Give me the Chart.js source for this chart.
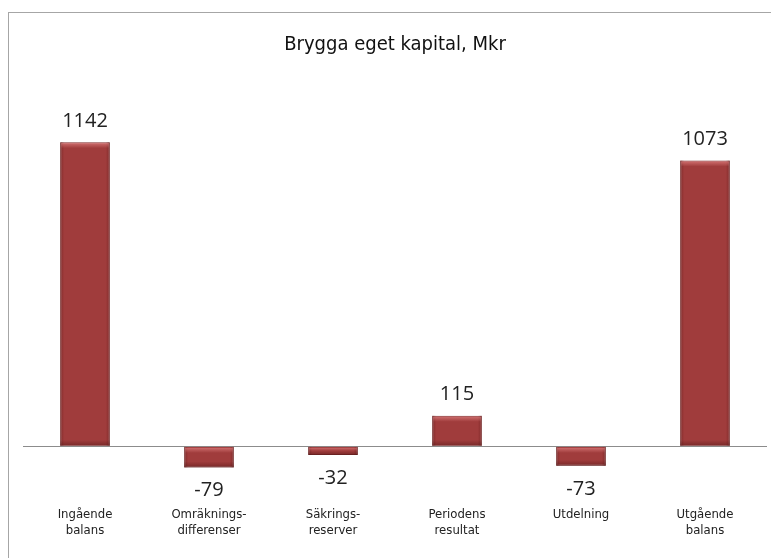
<!DOCTYPE html>
<html>
<head>
<meta charset="utf-8">
<script src="https://cdn.jsdelivr.net/npm/chart.js@4"></script>
<style>
  body { margin: 0; background: #fff; }
  #wrap { position: absolute; left: 0; top: 0; width: 771px; height: 558px; }
</style>
</head>
<body>
<div id="wrap"><canvas id="myChart" width="771" height="558"></canvas></div>
<script>
const categories = [
  ["Ingående", "balans"],
  ["Omräknings-", "differenser"],
  ["Säkrings-", "reserver"],
  ["Periodens", "resultat"],
  ["Utdelning"],
  ["Utgående", "balans"]
]
const values = [1142, -79, -32, 115, -73, 1073]
const chartTitle = "Brygga eget kapital, Mkr"

const narrowFont = "'Liberation Sans Narrow', 'DejaVu Sans Condensed', 'Liberation Sans', sans-serif"
const valueFont = "'Open Sans', 'Noto Sans', sans-serif"

// frame around the chart, like the original slide box
const framePlugin = {
  id: "frame",
  beforeDraw(chart) {
    const c = chart.ctx
    c.save()
    c.fillStyle = "#fff"
    c.fillRect(0, 0, chart.width, chart.height)
    c.strokeStyle = "#a6a6a6"
    c.lineWidth = 1
    c.strokeRect(8.5, 12.5, 900, 700)
    c.restore()
  }
}

// bevel look + value labels on each bar
const barLabels = {
  id: "barLabels",
  afterDatasetsDraw(chart) {
    const c = chart.ctx
    const meta = chart.getDatasetMeta(0)
    c.save()
    meta.data.forEach((bar, i) => {
      const left = bar.x - bar.width / 2
      const right = bar.x + bar.width / 2
      const top = Math.min(bar.y, bar.base)
      const bottom = Math.max(bar.y, bar.base)
      const h = bottom - top

      let g = c.createLinearGradient(left, 0, right, 0)
      g.addColorStop(0, "rgba(90,20,20,0.45)")
      g.addColorStop(0.08, "rgba(90,20,20,0)")
      g.addColorStop(0.92, "rgba(90,20,20,0)")
      g.addColorStop(1, "rgba(90,20,20,0.45)")
      c.fillStyle = g
      c.fillRect(left, top, bar.width, h)

      const hl = Math.min(6, h / 2)
      g = c.createLinearGradient(0, top, 0, top + hl)
      g.addColorStop(0, "rgba(235,140,140,0.7)")
      g.addColorStop(1, "rgba(235,140,140,0)")
      c.fillStyle = g
      c.fillRect(left + 1, top + 1, bar.width - 2, hl)

      g = c.createLinearGradient(0, bottom - hl, 0, bottom)
      g.addColorStop(0, "rgba(70,15,15,0)")
      g.addColorStop(1, "rgba(70,15,15,0.45)")
      c.fillStyle = g
      c.fillRect(left, bottom - hl, bar.width, hl)

      c.font = "20px " + valueFont
      c.fillStyle = "#222"
      c.textAlign = "center"
      c.textBaseline = "middle"
      const v = values[i]
      const y = v >= 0 ? bar.y - 21 : bar.y + 23
      c.fillText(String(v), bar.x, y)
    })
    c.restore()
  }
}

new Chart(document.getElementById("myChart"), {
  type: "bar",
  data: {
    labels: categories,
    datasets: [
      {
        data: values,
        backgroundColor: "#a03c3c",
        borderColor: "#7e2a2a",
        borderWidth: 1,
        barPercentage: 0.4,
        categoryPercentage: 1
      }
    ]
  },
  options: {
    responsive: false,
    animation: false,
    layout: { padding: { left: 23, right: 4, top: 0, bottom: 0 } },
    plugins: {
      legend: { display: false },
      tooltip: { enabled: false },
      title: {
        display: true,
        text: chartTitle,
        color: "#111",
        font: { family: narrowFont, size: 20, weight: "normal" },
        padding: { top: 33, bottom: 83 }
      }
    },
    scales: {
      x: {
        grid: { display: false, drawTicks: false },
        border: { display: false },
        afterFit: (scale) => { scale.height = 85 },
        ticks: {
          color: "#222",
          font: { family: narrowFont, size: 13 },
          padding: 34,
          maxRotation: 0,
          autoSkip: false
        }
      },
      y: {
        min: -100,
        max: 1150,
        grid: {
          drawTicks: false,
          color: (ctx) => (ctx.tick && ctx.tick.value === 0 ? "#8c8c8c" : "transparent")
        },
        border: { display: false },
        ticks: { display: false, stepSize: 50 }
      }
    }
  },
  plugins: [framePlugin, barLabels]
})
</script>
</body>
</html>
